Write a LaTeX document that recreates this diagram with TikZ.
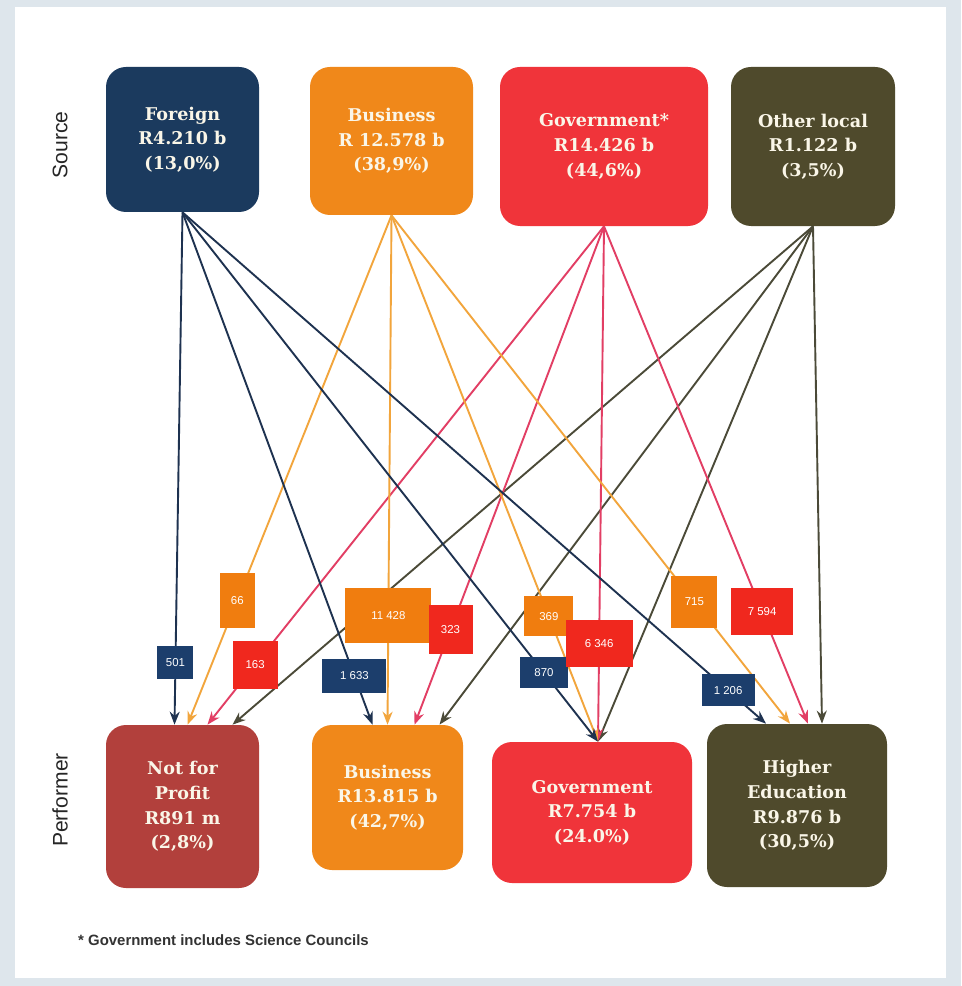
\documentclass[tikz,border=0pt]{standalone}
\usepackage{fontspec}
\setsansfont{Liberation Sans}
\newfontfamily\slabfont{DejaVu Serif}
\usetikzlibrary{positioning, calc, arrows.meta}
\definecolor{navyfill}{RGB}{27,58,94}
\definecolor{orangefill}{RGB}{240,136,26}
\definecolor{redfill}{RGB}{240,52,58}
\definecolor{olivefill}{RGB}{79,74,44}
\definecolor{brickfill}{RGB}{178,64,60}
\definecolor{navyline}{RGB}{30,50,80}
\definecolor{orangeline}{RGB}{242,165,60}
\definecolor{redline}{RGB}{226,62,100}
\definecolor{oliveline}{RGB}{75,74,56}
\definecolor{navytag}{RGB}{28,62,108}
\definecolor{orangetag}{RGB}{240,125,15}
\definecolor{redtag}{RGB}{240,40,30}
\definecolor{boxtext}{RGB}{250,246,232}
\definecolor{outside}{RGB}{222,230,236}
\tikzset{
    box node/.style={rectangle, rounded corners=4mm, fill=#1, text=boxtext, align=center, font=\slabfont\bfseries\fontsize{10}{14}\selectfont, inner sep=2pt},
    flow/.style={line width=0.38mm, -{Stealth[length=2.6mm, width=2mm]}, draw=#1},
    flow label/.style={rectangle, fill=#1, text=white, font=\sffamily\fontsize{6.5}{7}\selectfont, inner sep=1pt},
    side label/.style={rotate=90, font=\sffamily\fontsize{12}{14}\selectfont, text=black!85},
}
\newcommand{\drawsources}{
    \node[box node=navyfill, minimum width=30.6mm, minimum height=29mm] (for) at (182.5,139.5) {Foreign\\R4.210 b\\(13,0\%)};
    \node[box node=orangefill, minimum width=32.6mm, minimum height=29.6mm] (bus) at (391.5,141) {Business\\R 12.578 b\\(38,9\%)};
    \node[box node=redfill, minimum width=41.6mm, minimum height=31.8mm] (gov) at (604,146.5) {Government*\\R14.426 b\\(44,6\%)};
    \node[box node=olivefill, minimum width=32.8mm, minimum height=31.8mm] (oth) at (813,146.5) {Other local\\R1.122 b\\(3,5\%)};
}
\newcommand{\drawperformers}{
    \node[box node=brickfill, minimum width=30.6mm, minimum height=32.6mm] (npo) at (182.5,806.5) {Not for\\Profit\\R891 m\\(2,8\%)};
    \node[box node=orangefill, minimum width=30.2mm, minimum height=29mm] (busp) at (387.5,797.5) {Business\\R13.815 b\\(42,7\%)};
    \node[box node=redfill, minimum width=40mm, minimum height=28.2mm] (govp) at (592,812.5) {Government\\R7.754 b\\(24.0\%)};
    \node[box node=olivefill, minimum width=36mm, minimum height=32.6mm] (he) at (797,805.5) {Higher\\Education\\R9.876 b\\(30,5\%)};
}

\begin{document}
\begin{tikzpicture}[x=0.2mm, y=-0.2mm]
    \fill[outside] (0,0) rectangle (961,986);
    \fill[white] (15,7) rectangle (946,978);
    \useasboundingbox (0,0) rectangle (961,986);
    \drawsources
    \drawperformers
    \node[side label] (srclab) at (60,145) {Source};
    \node[side label] (perflab) at (60,800) {Performer};
    \node[anchor=west, font=\sffamily\bfseries\fontsize{8.5}{10}\selectfont, text=black!80] (foot) at (72,940) {* Government includes Science Councils};
    % arrow ends on top of the performers
    \coordinate (npo f) at ($(npo.north)+(-8,0)$);
    \coordinate (npo b) at ($(npo.north)+(5,0)$);
    \coordinate (npo g) at ($(npo.north)+(25,0)$);
    \coordinate (npo o) at ($(npo.north)+(50,0)$);
    \coordinate (busp f) at ($(busp.north)+(-15,0)$);
    \coordinate (busp b) at ($(busp.north)+(0,0)$);
    \coordinate (busp g) at ($(busp.north)+(27,0)$);
    \coordinate (busp o) at ($(busp.north)+(52,0)$);
    \coordinate (govp in) at ($(govp.north)+(6,0)$);
    \coordinate (he f) at ($(he.north)+(-31,0)$);
    \coordinate (he b) at ($(he.north)+(-7,0)$);
    \coordinate (he g) at ($(he.north)+(11,0)$);
    \coordinate (he o) at ($(he.north)+(25,0)$);
    \path
    (oth.south) edge[flow=oliveline] (npo o)
    (oth.south) edge[flow=oliveline] (busp o)
    (oth.south) edge[flow=oliveline] (govp in)
    (oth.south) edge[flow=oliveline] (he o)
    (gov.south) edge[flow=redline] (npo g)
    (gov.south) edge[flow=redline] (busp g)
    (gov.south) edge[flow=redline] (govp in)
    (gov.south) edge[flow=redline] (he g)
    (bus.south) edge[flow=orangeline] (npo b)
    (bus.south) edge[flow=orangeline] (busp b)
    (bus.south) edge[flow=orangeline] (govp in)
    (bus.south) edge[flow=orangeline] (he b)
    (for.south) edge[flow=navyline] (npo f)
    (for.south) edge[flow=navyline] (busp f)
    (for.south) edge[flow=navyline] (govp in)
    (for.south) edge[flow=navyline] (he f);
    % amounts on the flows
    \node[flow label=navytag, minimum width=7.2mm, minimum height=6.6mm] (t501) at ($(for.south)!.878!(npo f)$) {501};
    \node[flow label=navytag, minimum width=12.8mm, minimum height=6.8mm] (t1633) at ($(for.south)!.905!(busp f)$) {1 633};
    \node[flow label=navytag, minimum width=9.6mm, minimum height=6.2mm] (t870) at ($(for.south)!.87!(govp in)$) {870};
    \node[flow label=navytag, minimum width=10.6mm, minimum height=6.4mm] (t1206) at ($(for.south)!.935!(he f)$) {1 206};
    \node[flow label=orangetag, minimum width=7mm, minimum height=11mm] (t66) at ($(bus.south)!.756!(npo b)$) {66};
    \node[flow label=orangetag, minimum width=17.2mm, minimum height=11mm] (t11428) at ($(bus.south)!.785!(busp b)$) {11 428};
    \node[flow label=orangetag, minimum width=9.8mm, minimum height=8mm] (t369) at ($(bus.south)!.762!(govp in)$) {369};
    \node[flow label=orangetag, minimum width=9.2mm, minimum height=10.4mm] (t715) at ($(bus.south)!.76!(he b)$) {715};
    \node[flow label=redtag, minimum width=9mm, minimum height=9.6mm] (t163) at ($(gov.south)!.88!(npo g)$) {163};
    \node[flow label=redtag, minimum width=8.8mm, minimum height=9.8mm] (t323) at ($(gov.south)!.81!(busp g)$) {323};
    \node[flow label=redtag, minimum width=13.4mm, minimum height=9.4mm] (t6346) at ($(gov.south)!.81!(govp in)$) {6 346};
    \node[flow label=redtag, minimum width=12.4mm, minimum height=9.4mm] (t7594) at ($(gov.south)!.775!(he g)$) {7 594};
\end{tikzpicture}
\end{document}
